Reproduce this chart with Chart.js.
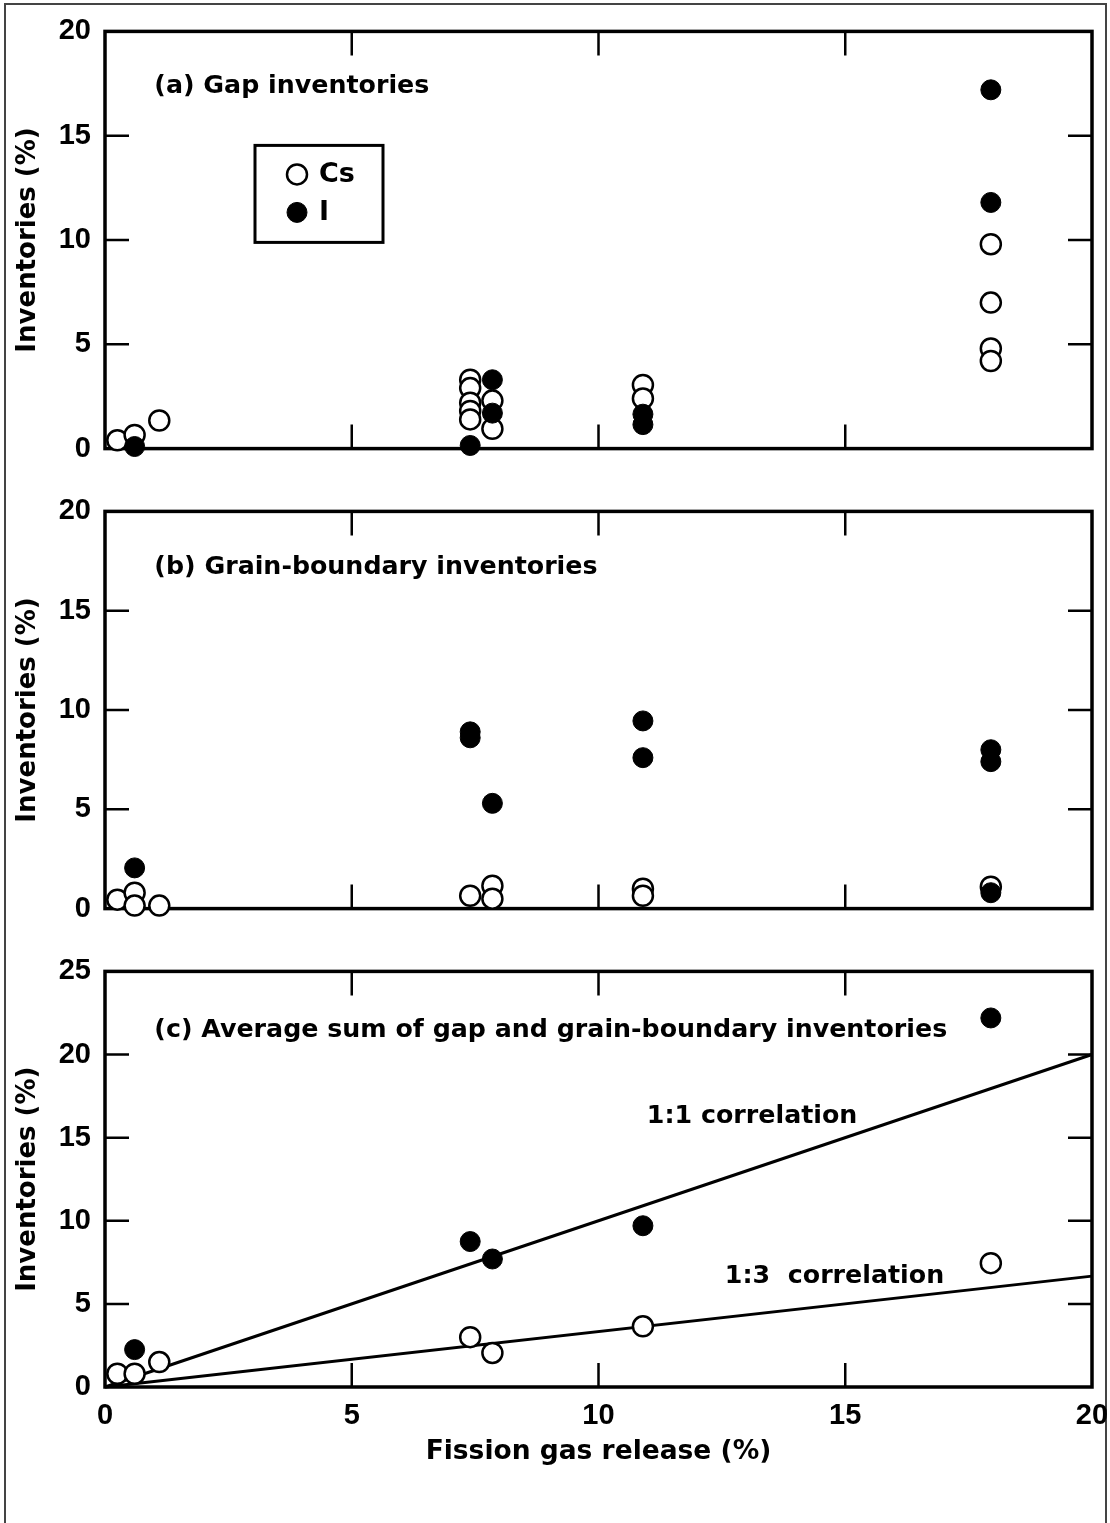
<!DOCTYPE html>
<html>
<head>
<meta charset="utf-8">
<script src="https://cdn.jsdelivr.net/npm/chart.js@4.4.1/dist/chart.umd.min.js"></script>
<style>
  body { margin: 0; background: #fff; }
  #page { position: relative; width: 1110px; height: 1523px; background: #fff; overflow: hidden; }
  #frame { position: absolute; left: 4px; top: 3px; width: 1103px; height: 1540px; border: 2px solid #444; border-bottom: none; box-sizing: border-box; }
  .panel { position: absolute; left: 0; width: 1110px; }
</style>
</head>
<body>
<div id="page">
  <div id="frame"></div>
  <div class="panel" style="top:0;height:480px"><canvas id="chartA"></canvas></div>
  <div class="panel" style="top:480px;height:460px"><canvas id="chartB"></canvas></div>
  <div class="panel" style="top:940px;height:583px"><canvas id="chartC"></canvas></div>
</div>
<script>
// (a) gap inventories
const gapCsX = [0.25, 0.6, 1.1, 7.4, 7.4, 7.4, 7.4, 7.4, 7.85, 7.85, 10.9, 10.9, 17.95, 17.95, 17.95, 17.95];
const gapCsY = [0.4, 0.65, 1.35, 3.3, 2.9, 2.2, 1.8, 1.4, 2.3, 0.95, 3.05, 2.4, 9.8, 7.0, 4.8, 4.2];
const gapIX = [0.6, 7.4, 7.85, 7.85, 10.9, 10.9, 17.95, 17.95];
const gapIY = [0.1, 0.15, 3.3, 1.7, 1.65, 1.15, 17.2, 11.8];

// (b) grain-boundary inventories
const gbCsX = [0.25, 0.6, 0.6, 1.1, 7.4, 7.85, 7.85, 10.9, 10.9, 17.95];
const gbCsY = [0.45, 0.8, 0.15, 0.15, 0.65, 1.15, 0.5, 1.0, 0.65, 1.1];
const gbIX = [0.6, 7.4, 7.4, 7.85, 10.9, 10.9, 17.95, 17.95, 17.95];
const gbIY = [2.05, 8.9, 8.6, 5.3, 9.45, 7.6, 8.0, 7.4, 0.8];

// (c) average sum
const sumCsX = [0.25, 0.6, 1.1, 7.4, 7.85, 10.9, 17.95];
const sumCsY = [0.8, 0.8, 1.5, 3.0, 2.05, 3.65, 7.45];
const sumIX = [0.6, 7.4, 7.85, 10.9, 17.95];
const sumIY = [2.25, 8.75, 7.7, 9.7, 22.2];

// correlation lines
const corrX = [0, 20];
const corr11 = [0, 20];
const corr13 = [0, 6.67];

const xTicks = [0, 5, 10, 15, 20];
const yMaxAB = 20;
const yMaxC = 25;

const TICK_FAMILY = '"Liberation Sans", Arial, Helvetica, sans-serif';
const TEXT_FAMILY = '"DejaVu Sans", Verdana, sans-serif';
const tickFont = { family: TICK_FAMILY, size: 29, weight: 'bold' };
const yTitleFont = { family: TEXT_FAMILY, size: 26, weight: 'bold' };
const xTitleFont = { family: TEXT_FAMILY, size: 26.5, weight: 'bold' };
const noteFont = 'bold 25.3px ' + TEXT_FAMILY;

const pts = (xs, ys) => xs.map((x, i) => ({ x: x, y: ys[i] }));

function csSet(xs, ys) {
  return { label: 'Cs', data: pts(xs, ys), order: 1, clip: false,
    pointStyle: 'circle', pointRadius: 10, pointHoverRadius: 10,
    pointBackgroundColor: '#fff', pointBorderColor: '#000', pointBorderWidth: 2.5 };
}
function iSet(xs, ys) {
  return { label: 'I', data: pts(xs, ys), order: 0, clip: false,
    pointStyle: 'circle', pointRadius: 10, pointHoverRadius: 10,
    pointBackgroundColor: '#000', pointBorderColor: '#000', pointBorderWidth: 1 };
}
function lineSet(ys) {
  return { data: pts(corrX, ys), showLine: true, order: 2, clip: false,
    pointRadius: 0, borderColor: '#000', borderWidth: 3 };
}

// box with inward ticks on all four sides
const framePlugin = {
  id: 'frame',
  beforeDatasetsDraw(chart) {
    const { ctx, chartArea: a, scales: { x, y } } = chart;
    const len = 24;
    ctx.save();
    ctx.strokeStyle = '#000';
    ctx.lineWidth = 2.5;
    ctx.beginPath();
    x.ticks.forEach(t => {
      if (t.value <= x.min || t.value >= x.max) return;
      const px = x.getPixelForValue(t.value);
      ctx.moveTo(px, a.top); ctx.lineTo(px, a.top + len);
      ctx.moveTo(px, a.bottom); ctx.lineTo(px, a.bottom - len);
    });
    y.ticks.forEach(t => {
      if (t.value <= y.min || t.value >= y.max) return;
      const py = y.getPixelForValue(t.value);
      ctx.moveTo(a.left, py); ctx.lineTo(a.left + len, py);
      ctx.moveTo(a.right, py); ctx.lineTo(a.right - len, py);
    });
    ctx.stroke();
    ctx.lineWidth = 3.5;
    ctx.strokeRect(a.left, a.top, a.right - a.left, a.bottom - a.top);
    ctx.restore();
  }
};

// text placed in data coordinates (left edge, baseline)
const notesPlugin = {
  id: 'notes',
  afterDatasetsDraw(chart, args, opts) {
    const { ctx, scales: { x, y } } = chart;
    ctx.save();
    ctx.font = noteFont;
    ctx.fillStyle = '#000';
    ctx.textAlign = 'left';
    ctx.textBaseline = 'alphabetic';
    (opts.items || []).forEach(it => {
      ctx.fillText(it.text, x.getPixelForValue(it.x), y.getPixelForValue(it.y));
    });
    ctx.restore();
  }
};

// boxed legend inside panel (a)
const boxLegendPlugin = {
  id: 'boxLegend',
  afterDatasetsDraw(chart, args, opts) {
    if (!opts.show) return;
    const { ctx, chartArea: a } = chart;
    const left = a.left + 150, top = a.top + 114, w = 128, h = 97;
    ctx.save();
    ctx.lineWidth = 3;
    ctx.strokeStyle = '#000';
    ctx.strokeRect(left, top, w, h);
    ctx.font = 'bold 27px ' + TEXT_FAMILY;
    ctx.textBaseline = 'middle';
    chart.data.datasets.filter(d => d.label).forEach((d, i) => {
      const cy = top + 29 + i * 38;
      ctx.beginPath();
      ctx.arc(left + 42, cy, d.pointRadius, 0, Math.PI * 2);
      ctx.fillStyle = d.pointBackgroundColor;
      ctx.fill();
      ctx.lineWidth = d.pointBorderWidth;
      ctx.strokeStyle = d.pointBorderColor;
      ctx.stroke();
      ctx.fillStyle = '#000';
      ctx.fillText(d.label, left + 64, cy + 1);
    });
    ctx.restore();
  }
};

function makeChart(id, datasets, o) {
  return new Chart(document.getElementById(id), {
    type: 'scatter',
    data: { datasets: datasets },
    options: {
      responsive: true,
      maintainAspectRatio: false,
      animation: false,
      events: [],
      layout: { padding: { top: o.padTop, right: 18, left: 0, bottom: 0 } },
      scales: {
        x: {
          type: 'linear', min: 0, max: 20,
          afterBuildTicks(s) { s.ticks = xTicks.map(v => ({ value: v })); },
          ticks: { display: o.xLabels, color: '#000', font: tickFont, padding: 12, maxRotation: 0 },
          grid: { display: false, drawTicks: false },
          border: { display: false },
          title: { display: o.xLabels, text: 'Fission gas release (%)', color: '#000', font: xTitleFont,
                   padding: { top: 0, bottom: 55 } },
          afterFit(s) { s.height = o.xHeight; s.paddingLeft = 0; s.paddingRight = 0; }
        },
        y: {
          min: 0, max: o.yMax,
          ticks: { stepSize: 5, color: '#000', font: tickFont, padding: 14 },
          grid: { display: false, drawTicks: false },
          border: { display: false },
          title: { display: true, text: 'Inventories (%)', color: '#000', font: yTitleFont,
                   padding: { top: 13, bottom: 0 } },
          afterFit(s) { s.width = 105; }
        }
      },
      plugins: {
        legend: { display: false },
        tooltip: { enabled: false },
        notes: { items: o.notes },
        boxLegend: { show: !!o.legend }
      }
    },
    plugins: [framePlugin, notesPlugin, boxLegendPlugin]
  });
}

makeChart('chartA', [csSet(gapCsX, gapCsY), iSet(gapIX, gapIY)], {
  padTop: 29, xHeight: 25, xLabels: false, yMax: yMaxAB, legend: true,
  notes: [{ text: '(a) Gap inventories', x: 1.0, y: 17.05 }]
});

makeChart('chartB', [csSet(gbCsX, gbCsY), iSet(gbIX, gbIY)], {
  padTop: 23, xHeight: 18, xLabels: false, yMax: yMaxAB,
  notes: [{ text: '(b) Grain-boundary inventories', x: 1.0, y: 16.85 }]
});

makeChart('chartC', [csSet(sumCsX, sumCsY), iSet(sumIX, sumIY), lineSet(corr11), lineSet(corr13)], {
  padTop: 28, xHeight: 136, xLabels: true, yMax: yMaxC,
  notes: [
    { text: '(c) Average sum of gap and grain-boundary inventories', x: 1.0, y: 21.05 },
    { text: '1:1 correlation', x: 10.98, y: 15.87 },
    { text: '1:3  correlation', x: 12.56, y: 6.27 }
  ]
});
</script>
</body>
</html>
